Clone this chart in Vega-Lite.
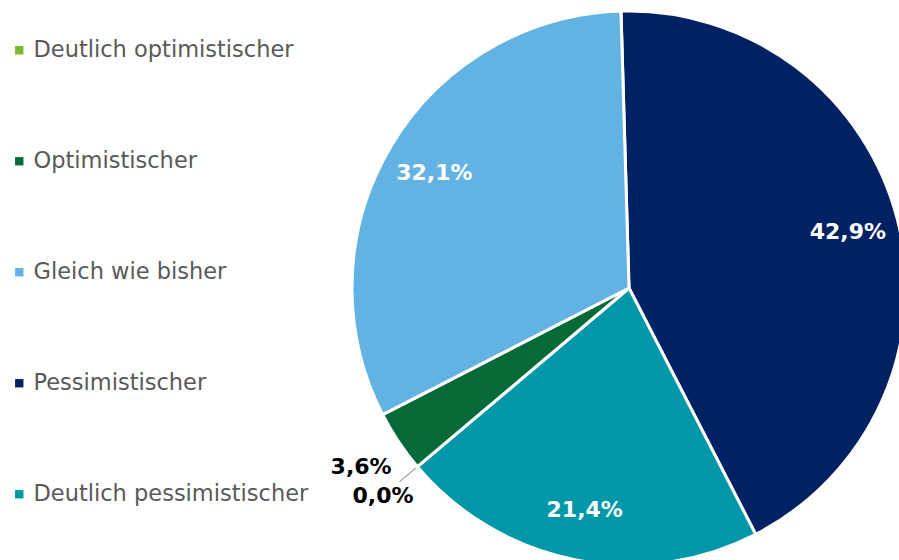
{
  "$schema": "https://vega.github.io/schema/vega-lite/v6.json",
  "width": 899,
  "height": 560,
  "padding": 0,
  "autosize": "none",
  "background": "white",
  "config": {
    "view": {"stroke": null},
    "locale": {"number": {"decimal": ",", "thousands": ".", "grouping": [3], "currency": ["", " €"]}}
  },
  "data": {
    "values": [
      {"kategorie": "Pessimistischer", "anteil": 0.429, "rang": 1},
      {"kategorie": "Deutlich pessimistischer", "anteil": 0.214, "rang": 2},
      {"kategorie": "Deutlich optimistischer", "anteil": 0.0, "rang": 3},
      {"kategorie": "Optimistischer", "anteil": 0.036, "rang": 4},
      {"kategorie": "Gleich wie bisher", "anteil": 0.321, "rang": 5}
    ]
  },
  "encoding": {
    "theta": {"field": "anteil", "type": "quantitative", "stack": true, "scale": {"range": [-0.029, 6.2542]}},
    "order": {"field": "rang", "type": "quantitative"}
  },
  "layer": [
    {
      "mark": {"type": "arc", "x": 629, "y": 288, "stroke": "white", "strokeWidth": 3},
      "encoding": {
        "radius": {"value": 277},
        "color": {
          "field": "kategorie",
          "type": "nominal",
          "scale": {
            "domain": ["Deutlich optimistischer", "Optimistischer", "Gleich wie bisher", "Pessimistischer", "Deutlich pessimistischer"],
            "range": ["#7AB929", "#066A38", "#62B3E4", "#002163", "#0097A9"]
          },
          "legend": {
            "title": null,
            "orient": "none",
            "legendX": 8,
            "legendY": 39,
            "symbolType": "square",
            "symbolSize": 70,
            "symbolStrokeWidth": 0,
            "labelFont": "DejaVu Sans",
            "labelFontSize": 22.5,
            "labelColor": "#595959",
            "labelOffset": 3,
            "rowPadding": 88,
            "labelLimit": 400
          }
        }
      }
    },
    {
      "mark": {"type": "arc", "x": 629, "y": 288, "fill": null, "strokeWidth": 1.2},
      "encoding": {
        "radius": {"value": 279},
        "radius2": {"value": 300},
        "stroke": {"condition": {"test": "datum.anteil == 0", "value": "#A6A6A6"}, "value": "transparent"}
      }
    },
    {
      "mark": {"type": "text", "x": 629, "y": 288, "font": "DejaVu Sans", "fontWeight": "bold", "fontSize": 22, "fill": "white", "baseline": "middle", "align": "center"},
      "encoding": {
        "radius": {"value": 226},
        "text": {"condition": {"test": "datum.anteil >= 0.1", "field": "anteil", "type": "quantitative", "format": ".1%"}, "value": ""}
      }
    },
    {
      "mark": {"type": "text", "x": 629, "y": 288, "font": "DejaVu Sans", "fontWeight": "bold", "fontSize": 22, "fill": "black", "baseline": "middle", "align": "center"},
      "encoding": {
        "radius": {"value": 322},
        "text": {"condition": {"test": "datum.anteil < 0.1", "field": "anteil", "type": "quantitative", "format": ".1%"}, "value": ""}
      }
    }
  ]
}
